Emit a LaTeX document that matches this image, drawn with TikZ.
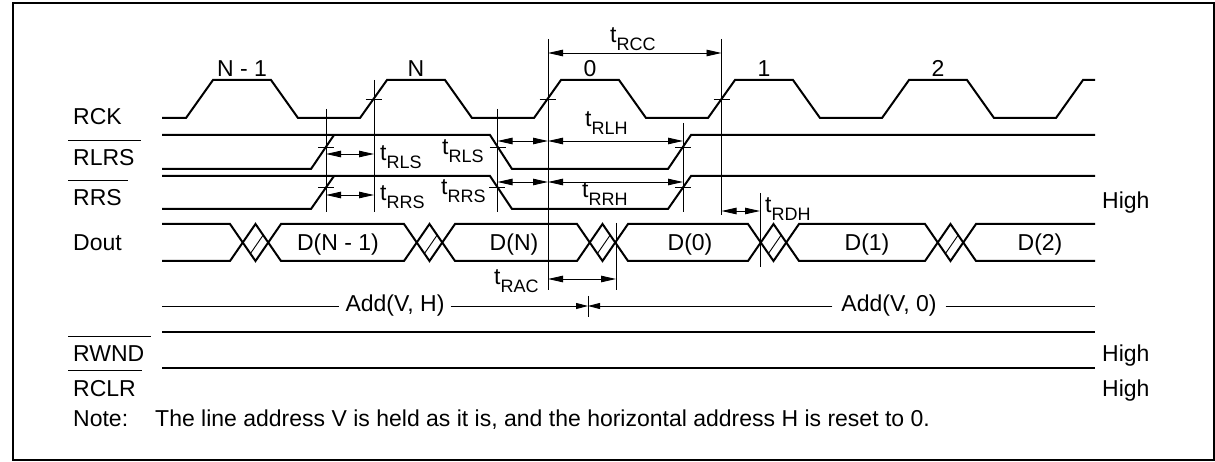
\documentclass[tikz,border=0pt]{standalone}
\usepackage{fontspec}
\setmainfont{Liberation Sans}
\usetikzlibrary{arrows.meta,calc}

\newcommand{\tsub}[1]{t\raisebox{-8pt}{\fontsize{18}{18}\selectfont #1}}

\tikzset{
  sig/.style={line width=2pt},
  guide/.style={line width=0.9pt},
  dimarr/.style={guide,{Triangle[length=15pt,width=6.5pt]}-{Triangle[length=15pt,width=6.5pt]}},
  tickmark/.style={line width=0.9pt},
  ovl/.style={line width=0.9pt},
  siglbl/.style={anchor=base west,inner sep=0pt},
  tlbl/.style={anchor=base west,inner sep=0pt},
  clk/.style={anchor=base,inner sep=0pt},
}

\begin{document}
\begin{tikzpicture}[x=1pt,y=-1pt,font=\fontsize{23}{27}\selectfont]
\useasboundingbox (0,0) rectangle (1215,462);
\draw[line width=1.5pt] (13,3) rectangle (1214,460);
\def\xs{162}
\def\xe{1095}

% signal names
\node[siglbl] (rck) at (73,125) {RCK};
\node[siglbl] (rlrs) at (73,166) {RLRS};
\node[siglbl] (rrs) at (73,206) {RRS};
\node[siglbl] (dout) at (73,251) {Dout};
\node[siglbl] (rwnd) at (73,361) {RWND};
\node[siglbl] (rclr) at (73,396) {RCLR};
\foreach \n in {rlrs,rrs,rwnd,rclr}
  \draw[ovl] ([xshift=-5pt,yshift=9pt]\n.north west) -- ([xshift=6pt,yshift=9pt]\n.north east);

% RCK
\draw[sig] (\xs,118) -- (186,118)
  \foreach \k in {0,...,4} { -- ++(27,-38) -- ++(58,0) -- ++(27,38) -- ++(62,0) }
  -- ++(27,-38) -- (\xe,80);
\foreach \c/\t [count=\i] in {242/N - 1,416/N,590/0,764/1,938/2}
  \node[clk] (cyc\i) at (\c,77) {\t};

% RLRS and RRS
\draw[sig] (\xs,135) -- (490,135) -- (512,169) -- (668,169) -- (691,135) -- (\xe,135);
\draw[sig] (\xs,169) -- (311,169) -- (334,135);
\draw[sig] (\xs,176) -- (490,176) -- (512,209) -- (668,209) -- (691,176) -- (\xe,176);
\draw[sig] (\xs,209) -- (311,209) -- (334,176);

% Dout
\def\xlist{230,404,577,748,925}
\draw[sig] (\xs,224) \foreach \s in \xlist { -- (\s,224) -- (\s+25.5,261) -- (\s+51,224) } -- (\xe,224);
\draw[sig] (\xs,261) \foreach \s in \xlist { -- (\s,261) -- (\s+25.5,224) -- (\s+51,261) } -- (\xe,261);
\foreach \s in \xlist
  \draw[guide] (\s+20.4,253.6) -- (\s+33.15,235.1);
\foreach \c/\t [count=\i] in {338/D(N - 1),514/D(N),690/D(0),867/D(1),1040/D(2)}
  \node[clk] (dat\i) at (\c,251) {\t};

% RWND, RCLR
\draw[sig] (\xs,332) -- (\xe,332);
\draw[sig] (\xs,368) -- (\xe,368);
\node[siglbl] (hiRRS) at (1102,209) {High};
\node[siglbl] (hiRWND) at (1102,361) {High};
\node[siglbl] (hiRCLR) at (1102,396) {High};

% reference lines and ticks
\foreach \n/\x/\a/\b in {gA/326/109/212,gB/374/80/212,gC/497.5/109/212,gD/548/39/290,
    gE/616/223/290,gF/683/123/212,gG/721.5/39/215,gH/760/193/267}{
  \coordinate (\n) at (\x,0);
  \draw[guide] (\x,\a) -- (\x,\b);
}
\foreach \x/\y in {373.5/99,547.5/99,721.5/99,326/147,497.8/147,683/147,326/187.5,497.3/187,683/187}
  \draw[tickmark] (\x-8,\y) -- (\x+8,\y);

% timing arrows
\draw[dimarr] ($(gD)+(0,53)$) -- ($(gG)+(0,53)$);
\draw[dimarr] ($(gA)+(0,154)$) -- ($(gB)+(0,154)$);
\draw[dimarr] ($(gA)+(0,195)$) -- ($(gB)+(0,195)$);
\draw[dimarr] ($(gC)+(0,141)$) -- ($(gD)+(0,141)$);
\draw[dimarr] ($(gD)+(0,141)$) -- ($(gF)+(0,141)$);
\draw[dimarr] ($(gC)+(0,182)$) -- ($(gD)+(0,182)$);
\draw[dimarr] ($(gD)+(0,182)$) -- ($(gF)+(0,182)$);
\draw[dimarr] ($(gG)+(0,211)$) -- ($(gH)+(0,211)$);
\draw[dimarr] ($(gD)+(0,279)$) -- ($(gE)+(0,279)$);

\node[tlbl] (tRCC) at (610,43) {\tsub{RCC}};
\node[tlbl] (tRLH) at (585,127) {\tsub{RLH}};
\node[tlbl] (tRLSa) at (380,161) {\tsub{RLS}};
\node[tlbl] (tRRSa) at (380,201) {\tsub{RRS}};
\node[tlbl] (tRLSb) at (442,155) {\tsub{RLS}};
\node[tlbl] (tRRSb) at (441,195) {\tsub{RRS}};
\node[tlbl] (tRRH) at (582,198) {\tsub{RRH}};
\node[tlbl] (tRDH) at (765,213) {\tsub{RDH}};
\node[tlbl] (tRAC) at (494,285) {\tsub{RAC}};

% address
\coordinate (addL) at (\xs,306);
\coordinate (addR) at (\xe,306);
\coordinate (gI) at (588,306);
\node[inner sep=6pt] (addH) at (395,306) {Add(V, H)};
\node[inner sep=9pt] (addZ) at (889,306) {Add(V, 0)};
\draw[guide] (addL) -- (addH.west);
\draw[guide,-{Triangle[length=12pt,width=6pt]}] (addH.east) -- (gI);
\draw[guide,-{Triangle[length=12pt,width=6pt]}] (addZ.west) -- (gI);
\draw[guide] (addZ.east) -- (addR);
\draw[guide] ($(gI)+(0,-10)$) -- ($(gI)+(0,11)$);

% note
\node[siglbl] (note) at (73,426) {Note:};
\node[siglbl] (notetxt) at (155,426) {The line address V is held as it is, and the horizontal address H is reset to 0.};
\end{tikzpicture}
\end{document}
